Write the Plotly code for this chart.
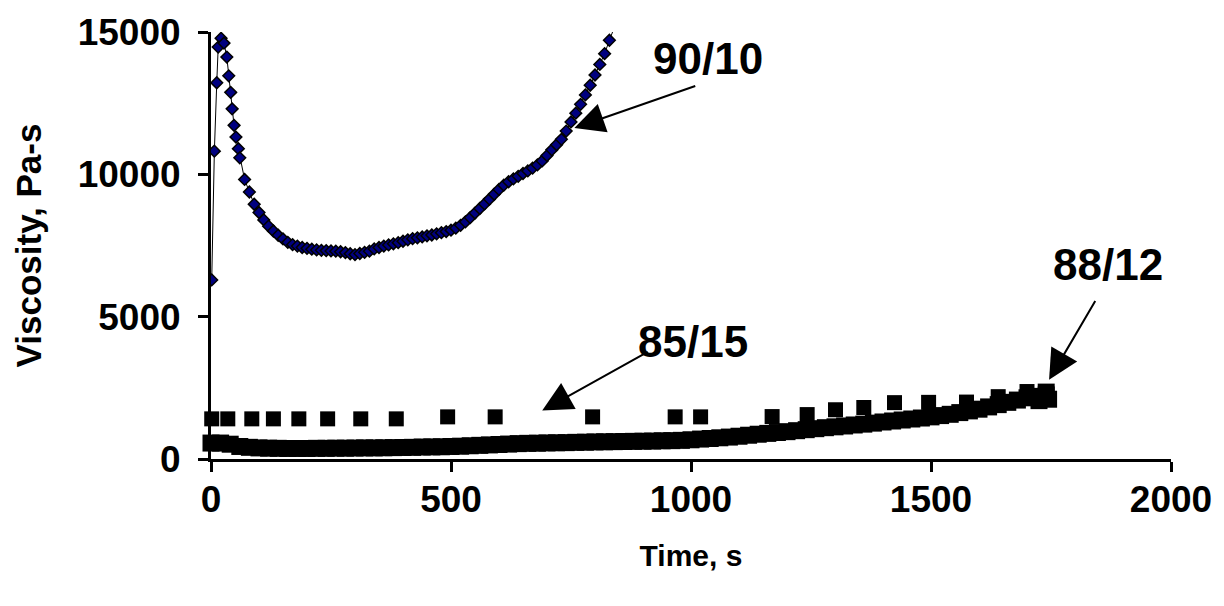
import plotly.graph_objects as go

# ---- data ----
t_9010 = [1.5, 7, 12, 15, 21, 27, 33, 37, 41, 44, 48, 52, 57,
          60, 70, 80, 90, 100, 110, 120, 130, 140, 150, 160, 170, 180, 190,
          200, 210, 220, 230, 240, 250, 260, 270, 280, 290, 300, 310, 320,
          330, 340, 350, 360, 370, 380, 390, 400, 410, 420, 430, 440, 450,
          460, 470, 480, 490, 500, 510, 520, 530, 540, 550, 560, 570, 580,
          590, 600, 610, 620, 630, 640, 650, 660, 670, 680, 690, 700, 710,
          720, 730, 740, 750, 760, 770, 780, 790, 800, 810, 820, 830, 840]
v_9010 = [6290, 10815, 13216, 14470, 14780, 14610, 14120, 13460, 12880, 12300, 11720, 11310, 10900,
          10580, 9820, 9380, 8950, 8660, 8400, 8180, 8010, 7860, 7730, 7610, 7530, 7480, 7430,
          7400, 7370, 7345, 7330, 7320, 7310, 7300, 7280, 7250, 7210, 7180, 7220, 7260,
          7300, 7380, 7430, 7480, 7520, 7560, 7600, 7650, 7700, 7740, 7770, 7800, 7840,
          7870, 7910, 7950, 7990, 8040, 8110, 8210, 8330, 8480, 8640, 8800, 8960, 9130,
          9300, 9470, 9620, 9740, 9840, 9930, 10030, 10120, 10220, 10330, 10470, 10660, 10860,
          11040, 11230, 11520, 11840, 12150, 12460, 12790, 13130, 13490, 13860, 14240, 14710, 15150]

t_8515 = [1.5, 35, 85, 130, 183, 243, 312, 386, 493, 592, 795, 967, 1020,
          1169, 1242, 1301, 1360, 1424, 1495, 1574, 1640, 1700]
v_8515 = [1410, 1410, 1410, 1410, 1410, 1410, 1410, 1410, 1480, 1480, 1480, 1480, 1480,
          1490, 1560, 1730, 1810, 1980, 1990, 2000, 2190, 2370]

t_8812 = [0, 20, 40, 60, 80, 100, 120, 140, 160, 180, 200, 220, 240, 260, 280, 300,
          320, 340, 360, 380, 400, 420, 440, 460, 480, 500, 520, 540, 560, 580, 600,
          620, 640, 660, 680, 700, 720, 740, 760, 780, 800, 820, 840, 860, 880, 900,
          920, 940, 960, 980, 1000, 1020, 1040, 1060, 1080, 1100, 1120, 1140, 1160,
          1180, 1200, 1220, 1240, 1260, 1280, 1300, 1320, 1340, 1360, 1380, 1400,
          1420, 1440, 1460, 1480, 1500, 1520, 1540, 1560, 1580, 1600, 1620, 1640,
          1660, 1680, 1700, 1720, 1740, 1725, 1740, 1745]
v_8812 = [560, 560, 520, 440, 410, 390, 380, 375, 370, 370, 370, 375, 375, 380, 380, 385,
          390, 390, 395, 400, 405, 410, 420, 425, 430, 440, 450, 465, 480, 495, 510,
          525, 540, 550, 555, 565, 570, 575, 585, 590, 600, 605, 610, 615, 620, 625,
          630, 640, 645, 655, 675, 700, 720, 745, 770, 800, 835, 870, 900,
          930, 960, 995, 1030, 1065, 1100, 1130, 1160, 1195, 1225, 1260, 1300,
          1335, 1370, 1405, 1440, 1480, 1525, 1570, 1630, 1690, 1750, 1830, 1910,
          1990, 2070, 2150, 2200, 2250, 2050, 2350, 2100]

x_ticks = [0, 500, 1000, 1500, 2000]
y_ticks = [0, 5000, 10000, 15000]

FONT = "Arial, Liberation Sans, sans-serif"

fig = go.Figure()
fig.add_trace(go.Scatter(
    x=t_8515, y=v_8515, mode="markers", name="85/15",
    marker=dict(symbol="square", size=15, color="black", line=dict(width=0)),
    cliponaxis=False))
fig.add_trace(go.Scatter(
    x=t_8812, y=v_8812, mode="markers", name="88/12",
    marker=dict(symbol="square", size=17, color="black", line=dict(width=0)),
    cliponaxis=False))
fig.add_trace(go.Scatter(
    x=t_9010, y=v_9010, mode="lines+markers", name="90/10",
    line=dict(color="black", width=1),
    marker=dict(symbol="diamond", size=9, color="#000080",
                line=dict(color="black", width=1.5))))

def label(text, x, y):
    fig.add_annotation(x=x, y=y, text=f"<b>{text}</b>", showarrow=False,
                       font=dict(family=FONT, size=44, color="black"),
                       xanchor="center", yanchor="middle")

def arrow(x0, y0, x1, y1):
    fig.add_annotation(x=x1, y=y1, ax=x0, ay=y0, xref="x", yref="y",
                       axref="x", ayref="y", text="", showarrow=True,
                       arrowhead=2, arrowsize=3, arrowwidth=2, arrowcolor="black")

label("90/10", 1035, 14060)
label("85/15", 1004, 4142)
label("88/12", 1869, 6822)
arrow(1012, 13122, 757, 11625)
arrow(913, 3794, 690, 1700)
arrow(1844, 5604, 1746, 2780)

axis_common = dict(
    showline=True, linecolor="black", linewidth=3, mirror=False,
    ticks="outside", ticklen=10, tickwidth=3, tickcolor="black",
    showgrid=False, zeroline=False,
    tickfont=dict(family=FONT, size=37, color="black", weight="bold"),
)

fig.update_layout(
    width=1224, height=606,
    margin=dict(l=211, r=51, t=27, b=147),
    paper_bgcolor="white", plot_bgcolor="white",
    showlegend=False,
    xaxis=dict(range=[0, 2000], tickvals=x_ticks, ticktext=[str(v) for v in x_ticks],
               title=dict(text="<b>Time, s</b>", font=dict(family=FONT, size=30, color="black"),
                          standoff=26),
               ticklabelstandoff=-4, **axis_common),
    yaxis=dict(range=[0, 15000], tickvals=y_ticks, ticktext=[str(v) for v in y_ticks],
               title=dict(text="<b>Viscosity, Pa-s</b>", font=dict(family=FONT, size=35, color="black"),
                          standoff=26),
               ticklabelstandoff=10, **axis_common),
)

fig.write_html("out.html")
